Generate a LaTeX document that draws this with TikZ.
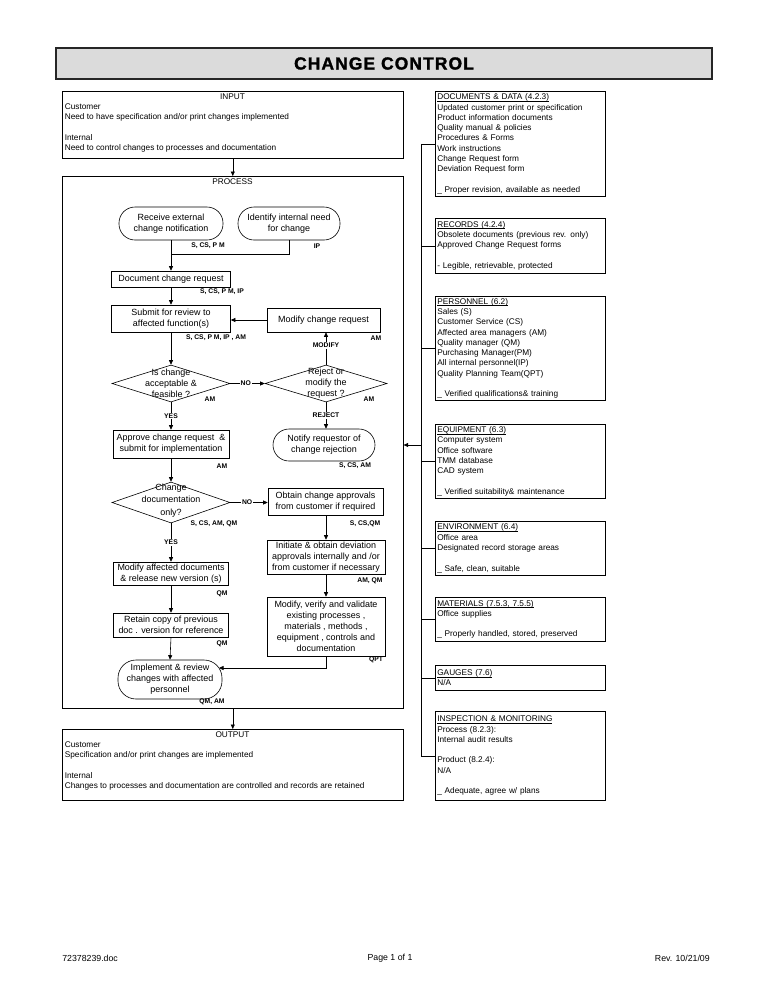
\documentclass[tikz,border=0pt]{standalone}
\usepackage{fontspec}
\setmainfont{Liberation Sans}
\newfontfamily\titlefont[LetterSpace=6.3,FakeBold=1.6]{Liberation Sans Bold}
\usetikzlibrary{shapes.geometric,arrows.meta,calc}

\newcommand{\fsbody}{\fontsize{8.3}{10.3}\selectfont}
\newcommand{\fsproc}{\fontsize{9}{11}\selectfont}
\newcommand{\fslab}{\fontsize{6.8}{8}\selectfont\bfseries}
\newcommand{\hdr}[1]{\setbox0=\hbox{#1}\rlap{\rule[-1.4bp]{\wd0}{0.5bp}}\box0}

\begin{document}
\begin{tikzpicture}[x=1bp,y=-1bp,
  line width=0.6bp,
  arr/.style={-{Triangle[length=4.5bp,width=4bp]}},
  pbox/.style={draw, rectangle, inner sep=1bp, align=center, font=\fsproc},
  pround/.style={draw, rectangle, rounded corners=#1, inner sep=1bp, align=center, font=\fsproc},
  pdia/.style={draw, diamond, inner sep=0pt},
  dtext/.style={align=center, font=\fsproc, inner sep=0pt},
  who/.style={font=\fslab, inner sep=0pt},
  flow/.style={font=\fslab, fill=white, inner sep=1bp},
  frame/.style={draw, rectangle, inner sep=0pt, anchor=north west},
  headtxt/.style={font=\fsbody, inner sep=0pt},
  bodytxt/.style={font=\fsbody, inner sep=0pt, anchor=north west, align=left},
  foot/.style={font=\fontsize{8.8}{10}\selectfont, inner sep=0pt},
  rbox/.style={draw, rectangle, anchor=north west, minimum width=170bp, text width=166bp,
    inner xsep=2bp, inner ysep=0pt, align=left, font=\fsbody, minimum height=#1},
]
\fill[white] (0,0) rectangle (768,994);
\useasboundingbox (0,0) rectangle (768,994);

% title
\node[draw=black!85, line width=1.1bp, fill=black!14, minimum width=656bp, minimum height=31bp, inner sep=0pt]
  (title) at (384,63.5) {\fontsize{17.5}{20}\titlefont CHANGE CONTROL};

% input
\node[frame, minimum width=341bp, minimum height=67bp] (input) at (62,91) {};
\node[headtxt] (inhead) at (232.5,96.5) {INPUT};
\node[bodytxt] (intext) at (64.5,103.3) {Customer\\Need to have specification and/or print changes implemented\\[10.3bp]Internal\\Need to control changes to processes and documentation};

% process frame
\node[frame, minimum width=341bp, minimum height=532bp] (process) at (62,176) {};
\node[headtxt] (prochead) at (232.5,182) {PROCESS};

% output
\node[frame, minimum width=341bp, minimum height=71bp] (output) at (62,729) {};
\node[headtxt] (outhead) at (232.5,734.5) {OUTPUT};
\node[bodytxt] (outtext) at (64.5,741.5) {Customer\\Specification and/or print changes are implemented\\[10.3bp]Internal\\Changes to processes and documentation are controlled and records are retained};

\draw[arr] (input.south) -- (process.north);
\draw[arr] (process.south) -- (output.north);

% process nodes
\node[pround=16bp, minimum width=104bp, minimum height=33bp] (recv) at (171,223.5) {Receive external\\change notification};
\node[pround=16bp, minimum width=102bp, minimum height=33bp] (ident) at (289,223.5) {Identify internal need\\for change};
\node[pbox, minimum width=119bp, minimum height=16bp] (docreq) at (171,279) {Document change request};
\node[pbox, minimum width=119bp, minimum height=27bp] (submit) at (171,318.5) {Submit for review to\\affected function(s)};
\node[pbox, minimum width=113bp, minimum height=24bp] (modreq) at (323.5,320) {Modify change request};
\node[pdia, minimum width=118bp, minimum height=37bp] (d1) at (171,383.5) {};
\node[dtext] (d1t) at (d1.center) {Is change\\acceptable \&\\feasible ?};
\node[pdia, minimum width=122bp, minimum height=37bp] (d2) at (326,383.5) {};
\node[dtext] (d2t) at (d2.center) {Reject or\\modify the\\request ?};
\node[pbox, minimum width=116bp, minimum height=28bp] (approve) at (171,444) {Approve change request~~\&\\submit for implementation};
\node[pround=16bp, minimum width=102bp, minimum height=32bp] (notify) at (324,445) {Notify requestor of\\change rejection};
\node[pdia, minimum width=118bp, minimum height=41bp] (d3) at (171,502.5) {};
\node[dtext, font=\fontsize{9}{12.5}\selectfont] (d3t) at (171,500.5) {Change\\documentation\\only?};
\node[pbox, minimum width=115bp, minimum height=27bp] (obtain) at (325.5,501.5) {Obtain change approvals\\from customer if required};
\node[pbox, minimum width=118bp, minimum height=34bp] (initiate) at (326,557) {Initiate \& obtain deviation\\approvals internally and /or\\from customer if necessary};
\node[pbox, minimum width=118bp, minimum height=59bp] (modver) at (326,626.5) {Modify, verify and validate\\existing processes ,\\materials , methods ,\\equipment , controls and\\documentation};
\node[pbox, minimum width=115bp, minimum height=23bp] (modaff) at (171,573.5) {Modify affected documents\\\& release new version (s)};
\node[pbox, minimum width=115bp, minimum height=24bp] (retain) at (171,625) {Retain copy of previous\\doc . version for reference};
\node[pround=18bp, minimum width=104bp, minimum height=39bp] (impl) at (170,679.5) {Implement \& review\\changes with affected\\personnel};

% responsibility labels
\node[who] (w1) at (208,246) {S, CS, P M};
\node[who] (w2) at (317,246) {IP};
\node[who] (w3) at (222,292) {S, CS, P M, IP};
\node[who] (w4) at (216,338) {S, CS, P M, IP , AM};
\node[who] (w5) at (376,338) {AM};
\node[who] (w6) at (210,399) {AM};
\node[who] (w7) at (369,399) {AM};
\node[who] (w8) at (222,466) {AM};
\node[who] (w9) at (355,466) {S, CS, AM};
\node[who] (w10) at (214,524) {S, CS, AM, QM};
\node[who] (w11) at (365,524) {S, CS,QM};
\node[who] (w12) at (370,581) {AM, QM};
\node[who] (w13) at (222,594) {QM};
\node[who] (w14) at (222,644) {QM};
\node[who] (w15) at (376,660) {QPT};
\node[who] (w16) at (212,702) {QM, AM};

% connectors
\coordinate (j1) at (171,254);
\draw (ident.south) |- (j1);
\draw[arr] (recv.south) -- (docreq.north);
\draw[arr] (docreq.south) -- (submit.north);
\draw[arr] (modreq.west) -- (modreq.west -| submit.east);
\draw[arr] (submit.south) -- (d1.north);
\draw[arr] (d1.east) -- node[flow, pos=0.45]{NO} (d2.west);
\draw[arr] (d2.north) -- node[flow, pos=0.6]{MODIFY} (d2.north |- modreq.south);
\draw[arr] (d1.south) -- node[flow]{YES} (approve.north);
\draw[arr] (d2.south) -- node[flow]{REJECT} (d2.south |- notify.north);
\draw[arr] (approve.south) -- (d3.north);
\draw[arr] (d3.east) -- node[flow, pos=0.45]{NO} (d3.east -| obtain.west);
\draw[arr] (initiate.north |- obtain.south) -- (initiate.north);
\draw[arr] (initiate.south) -- (modver.north);
\draw[arr] (d3.south) -- node[flow]{YES} (modaff.north);
\draw[arr] (modaff.south) -- (retain.north);
\draw[arr] (retain.south) -- (impl.north);
\coordinate (c668) at (326,668);
\coordinate (c668b) at (219,668);
\draw[arr] (modver.south) -- (c668) -- (c668b);

% right column
\node[rbox=105bp] (docs) at (435,91) {\hdr{DOCUMENTS \& DATA (4.2.3)}\\Updated customer print or specification\\Product information documents\\Quality manual \& policies\\Procedures \& Forms\\Work instructions\\Change Request form\\Deviation Request form\\[10.3bp]\_ Proper revision, available as needed};
\node[rbox=55bp] (records) at (435,218) {\hdr{RECORDS (4.2.4)}\\Obsolete documents (previous rev. only)\\Approved Change Request forms\\[10.3bp]- Legible, retrievable, protected};
\node[rbox=104bp] (personnel) at (435,296) {\hdr{PERSONNEL (6.2)}\\Sales (S)\\Customer Service (CS)\\Affected area managers (AM)\\Quality manager (QM)\\Purchasing Manager(PM)\\All internal personnel(IP)\\Quality Planning Team(QPT)\\[10.3bp]\_ Verified qualifications\& training};
\node[rbox=74bp] (equip) at (435,424) {\hdr{EQUIPMENT (6.3)}\\Computer system\\Office software\\TMM database\\CAD system\\[10.3bp]\_ Verified suitability\& maintenance};
\node[rbox=54bp] (env) at (435,521) {\hdr{ENVIRONMENT (6.4)}\\Office area\\Designated record storage areas\\[10.3bp]\_ Safe, clean, suitable};
\node[rbox=44bp] (mat) at (435,597) {\hdr{MATERIALS (7.5.3, 7.5.5)}\\Office supplies\\[10.3bp]\_ Properly handled, stored, preserved};
\node[rbox=25bp] (gauges) at (435,665) {\hdr{GAUGES (7.6)}\\N/A};
\node[rbox=89bp] (insp) at (435,711) {\hdr{INSPECTION \& MONITORING}\\Process (8.2.3):\\Internal audit results\\[10.3bp]Product (8.2.4):\\N/A\\[10.3bp]\_ Adequate, agree w/ plans};

\coordinate (vt) at (421,0);
\draw (docs.west -| vt) -- (insp.west -| vt);
\foreach \b in {docs,records,personnel,equip,env,mat,gauges,insp}
  \draw (\b.west) -- (\b.west -| vt);
\coordinate (vtap) at (421,445);
\draw[arr] (vtap) -- (vtap -| process.east);

% footer
\node[foot, anchor=west] (f1) at (62,958) {72378239.doc};
\node[foot] (f2) at (390,958) {Page 1 of 1};
\node[foot, anchor=east] (f3) at (710,958) {Rev. 10/21/09};
\end{tikzpicture}
\end{document}
